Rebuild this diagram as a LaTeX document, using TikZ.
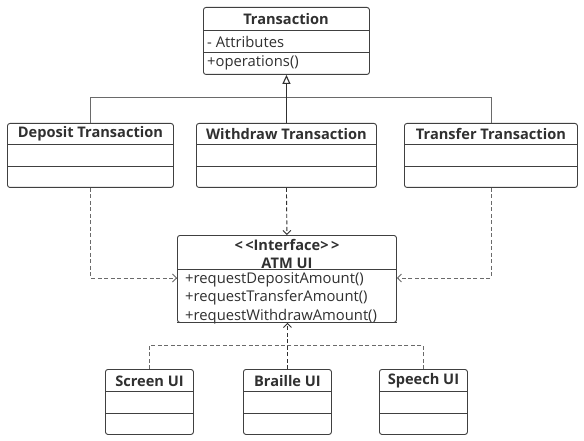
\documentclass[tikz,border=0pt]{standalone}
\usepackage{fontspec}
\setmainfont{Open Sans}
\usetikzlibrary{arrows.meta,calc}
\definecolor{boxc}{HTML}{404040}
\definecolor{txt}{HTML}{303030}
\definecolor{linec}{HTML}{6A6A6A}
\definecolor{darkl}{HTML}{303030}
\tikzset{
  box/.style={draw=boxc, rounded corners=2.5pt, line width=0.9pt, inner sep=0pt, anchor=north west},
  divider/.style={draw=boxc, line width=0.9pt},
  ttl/.style={font=\bfseries\fontsize{14.6}{15}\selectfont, text=txt, inner sep=0pt},
  mem/.style={font=\fontsize{14.8}{15}\selectfont, text=txt, inner sep=0pt, anchor=west},
  genthin/.style={draw=linec, line width=0.6pt},
  genthick/.style={draw=darkl, line width=1.1pt},
  realz/.style={draw=linec, line width=0.8pt, dash pattern=on 4pt off 2.5pt},
  realzdark/.style={draw=darkl, line width=0.9pt, dash pattern=on 4pt off 2.5pt},
  vtip/.style={-{Straight Barb[length=4pt,width=8pt]}},
}
\begin{document}
\begin{tikzpicture}[x=1pt,y=-1pt]
\useasboundingbox[fill=white] (0,0) rectangle (584,441);
% Transaction
\node[box, minimum width=166pt, minimum height=67pt] (trans) at (203,7) {};
\draw[divider] (trans.west |- 0,30) -- (trans.east |- 0,30);
\draw[divider] (trans.west |- 0,52) -- (trans.east |- 0,52);
\node[ttl] (transT) at (286,19) {Transaction};
\node[mem] (transA) at (207,42) {- Attributes};
\node[mem] (transO) at (207,63) {+operations()};
% Subclasses
\node[box, minimum width=166pt, minimum height=64pt] (dep) at (7,123) {};
\node[box, minimum width=180pt, minimum height=64pt] (wd) at (196,123) {};
\node[box, minimum width=173pt, minimum height=64pt] (tr) at (404,123) {};
\foreach \n in {dep,wd,tr}{
  \draw[divider] (\n.west |- 0,144) -- (\n.east |- 0,144);
  \draw[divider] (\n.west |- 0,166) -- (\n.east |- 0,166);
}
\node[ttl] (depT) at (dep.center |- 0,134) {Deposit Transaction};
\node[ttl] (wdT) at (wd.center |- 0,134) {Withdraw Transaction};
\node[ttl] (trT) at (tr.center |- 0,134) {Transfer Transaction};
% Generalization
\coordinate (junc) at (286,97);
\draw[genthin] (dep.north) |- (junc);
\draw[genthin] (tr.north) |- (junc);
\draw[genthick, -{Triangle[open,length=9pt,width=8pt]}] (wd.north) -- (trans.south);
% ATM UI
\node[box, minimum width=219pt, minimum height=87pt] (atm) at (177,235) {};
\draw[divider] (atm.west |- 0,269) -- (atm.east |- 0,269);
\node[ttl] (atmS) at (atm.center |- 0,245) {{<}\,{<}Interface{>}\,{>}};
\node[ttl] (atmN) at (atm.center |- 0,263) {ATM UI};
\node[mem] (m1) at (185,280) {+requestDepositAmount()};
\node[mem] (m2) at (185,298) {+requestTransferAmount()};
\node[mem] (m3) at (185,316.5) {+requestWithdrawAmount()};
\draw[divider] (atm.south west) -- (atm.south east);
% Realizations to ATM UI
\coordinate (ry) at (0,278);
\draw[realz, vtip] (dep.south) |- (atm.west |- ry);
\draw[realz, vtip] (tr.south) |- (atm.east |- ry);
\draw[realzdark, vtip] (wd.south) -- (atm.north);
% UI classes
\node[box, minimum width=88pt, minimum height=65pt] (scr) at (105,369) {};
\node[box, minimum width=88pt, minimum height=65pt] (br) at (243,369) {};
\node[box, minimum width=88pt, minimum height=65pt] (sp) at (379,369) {};
\foreach \n in {scr,br,sp}{
  \draw[divider] (\n.west |- 0,391) -- (\n.east |- 0,391);
  \draw[divider] (\n.west |- 0,413) -- (\n.east |- 0,413);
}
\node[ttl] (scrT) at (scr.center |- 0,381) {Screen UI};
\node[ttl] (brT) at (br.center |- 0,381) {Braille UI};
\node[ttl] (spT) at (sp.center |- 0,381) {Speech UI};
\coordinate (j2) at (287,345);
\draw[realz] (scr.north) |- (j2);
\draw[realz] (sp.north) |- (j2);
\draw[realzdark, vtip] (br.north) -- (br.north |- atm.south);
\end{tikzpicture}
\end{document}
